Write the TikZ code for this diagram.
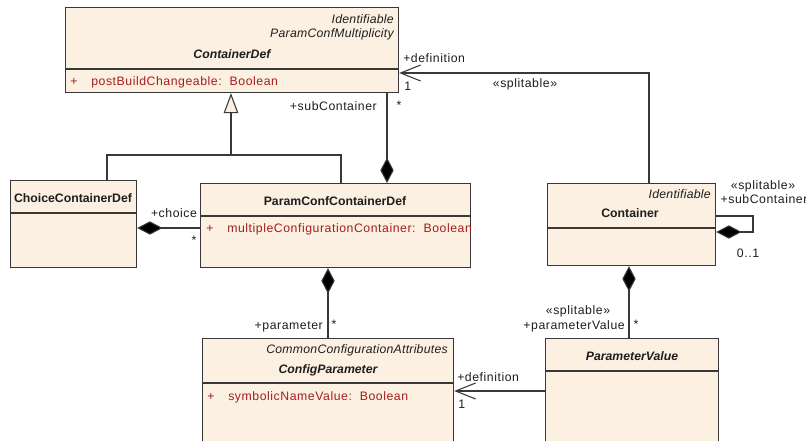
\documentclass[tikz,border=0pt]{standalone}
\usepackage{fontspec}
\setmainfont{Liberation Sans}
\newfontfamily\regf{Liberation Sans}[LetterSpace=4.5]
\newfontfamily\itf{Liberation Sans}[LetterSpace=2]
\usetikzlibrary{arrows.meta}
\definecolor{beige}{HTML}{FBF0E1}
\definecolor{bord}{HTML}{383838}
\definecolor{attr}{HTML}{A51E1E}
\definecolor{txtc}{HTML}{1E1E1E}
\newcommand\pxu{0.75pt}
\begin{document}
\begin{tikzpicture}[x=0.75pt,y=-0.75pt,
  cls/.style={draw=bord, fill=beige, line width=0.9pt, inner sep=0pt, anchor=north west},
  txt/.style={inner sep=0pt, font={\regf\fontsize{9.2}{11}\selectfont}, text=txtc, text height=1.5ex, text depth=.3ex},
  ittxt/.style={txt, font={\itf\fontsize{9.2}{11}\selectfont\itshape}},
  bftxt/.style={txt, font={\fontsize{9.2}{11}\selectfont\bfseries}},
  bitxt/.style={txt, font={\fontsize{9.2}{11}\selectfont\bfseries\itshape}},
  atxt/.style={txt, text=attr},
  lnk/.style={draw=bord, line width=0.8pt},
  divl/.style={draw=bord, line width=0.9pt},
  comp/.style={lnk, {Diamond[length=19pt,width=10pt,fill=black]}-},
  nav/.style={lnk, -{Straight Barb[length=15pt,width=12pt]}},
  gen/.style={lnk, -{Triangle[length=15pt,width=11pt,fill=beige]}}
]
\useasboundingbox (0,0) rectangle (806,441);
\fill[white] (0,0) rectangle (806,441);

% ---- classes ----
\node[cls, minimum width=333*\pxu, minimum height=85*\pxu] (cdef) at (65,7) {};
\draw[divl] (cdef.west |- 0,69) -- (cdef.east |- 0,69);
\node[ittxt, anchor=east] (cdefs1) at (394,19) {Identifiable};
\node[ittxt, anchor=east] (cdefs2) at (394,33) {ParamConfMultiplicity};
\node[bitxt] (cdefn) at (232,54) {ContainerDef};
\node[atxt, anchor=west] (cdefa1) at (70,81) {+};
\node[atxt, anchor=west] (cdefa2) at (91,81) {postBuildChangeable:\ \ Boolean};

\node[cls, minimum width=126*\pxu, minimum height=87*\pxu] (choice) at (10,180) {};
\draw[divl] (choice.west |- 0,213) -- (choice.east |- 0,213);
\node[bftxt] (choicen) at (73,198) {ChoiceContainerDef};

\node[cls, minimum width=270*\pxu, minimum height=84*\pxu] (pccd) at (200,183) {};
\draw[divl] (pccd.west |- 0,216) -- (pccd.east |- 0,216);
\node[bftxt] (pccdn) at (335,201) {ParamConfContainerDef};
\node[atxt, anchor=west] (pccda1) at (206,228) {+};
\node[atxt, anchor=west] (pccda2) at (227,228) {multipleConfigurationContainer:\ \ Boolean};

\node[cls, minimum width=168*\pxu, minimum height=82*\pxu] (cont) at (547,183) {};
\draw[divl] (cont.west |- 0,228) -- (cont.east |- 0,228);
\node[ittxt, anchor=east] (conts) at (711,194) {Identifiable};
\node[bftxt] (contn) at (630,213) {Container};

\node[cls, minimum width=251*\pxu, minimum height=120*\pxu] (cfg) at (202,338) {};
\draw[divl] (cfg.west |- 0,383) -- (cfg.east |- 0,383);
\node[ittxt, anchor=east] (cfgs) at (448,349) {CommonConfigurationAttributes};
\node[bitxt] (cfgn) at (328,369) {ConfigParameter};
\node[atxt, anchor=west] (cfga1) at (207,396) {+};
\node[atxt, anchor=west] (cfga2) at (228,396) {symbolicNameValue:\ \ Boolean};

\node[cls, minimum width=173*\pxu, minimum height=120*\pxu] (pv) at (545,338) {};
\draw[divl] (pv.west |- 0,371) -- (pv.east |- 0,371);
\node[bitxt] (pvn) at (632,356) {ParameterValue};

% ---- generalization ----
\coordinate (gj) at (231,155);
\coordinate (gl) at (107,155);
\coordinate (gr) at (341,155);
\draw[lnk] (choice.north -| gl) -- (gl) -- (gr) -- (pccd.north -| gr);
\draw[gen] (gj) -- (cdef.south -| gj);

% ---- compositions ----
\draw[comp] (pccd.north -| 387,0) -- (cdef.south -| 387,0);
\draw[comp] (choice.east |- 0,228) -- (pccd.west |- 0,228);
\draw[comp] (pccd.south -| 328,0) -- (cfg.north -| 328,0);
\draw[comp] (cont.south -| 629,0) -- (pv.north -| 629,0);
\coordinate (sl1) at (753,232);
\coordinate (sl2) at (753,216);
\draw[comp] (cont.east |- sl1) -- (sl1) -- (sl2) -- (cont.east |- sl2);

% ---- navigable associations ----
\draw[nav] (cont.north -| 649,0) |- (cdef.east |- 0,73);
\draw[nav] (pv.west |- 0,391) -- (cfg.east |- 0,391);

% ---- labels ----
\node[txt, anchor=east] (l1) at (377,106) {+subContainer};
\node[txt] (l2) at (399,105) {*};
\node[txt, anchor=west] (l3) at (403,58) {+definition};
\node[txt, anchor=west] (l4) at (404,86) {1};
\node[txt] (l5) at (525,83) {«splitable»};
\node[txt] (l6) at (174,213) {+choice};
\node[txt] (l7) at (194,240) {*};
\node[txt] (l8) at (763,185) {«splitable»};
\node[txt] (l9) at (764,199) {+subContainer};
\node[txt] (l10) at (748,253) {0..1};
\node[txt, anchor=east] (l11) at (323,325) {+parameter};
\node[txt] (l12) at (334,324) {*};
\node[txt] (l13) at (578,310) {«splitable»};
\node[txt, anchor=east] (l14) at (625,325) {+parameterValue};
\node[txt] (l15) at (636,324) {*};
\node[txt, anchor=west] (l16) at (457,377) {+definition};
\node[txt, anchor=west] (l17) at (458,404) {1};
\end{tikzpicture}
\end{document}
